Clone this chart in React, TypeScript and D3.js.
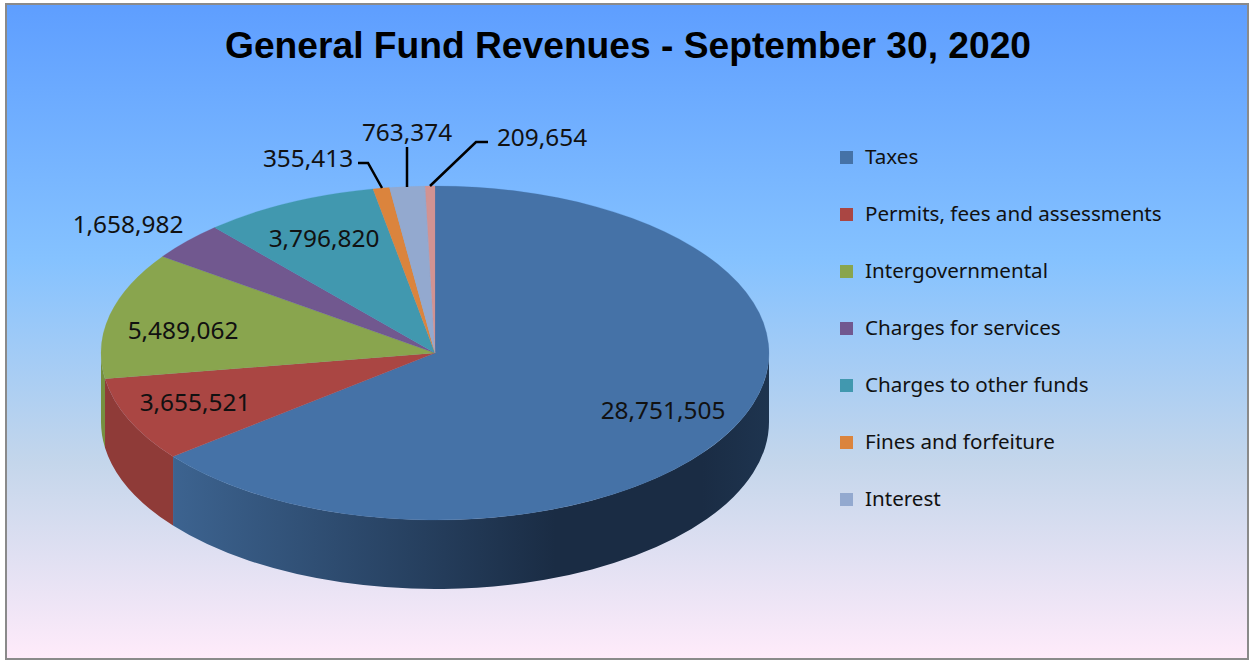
import React from "react";
import * as d3 from "d3";

const categories = ["Taxes", "Permits, fees and assessments", "Intergovernmental", "Charges for services", "Charges to other funds", "Fines and forfeiture", "Interest", "Other"];
const values = [28751505, 3655521, 5489062, 1658982, 3796820, 355413, 763374, 209654];
const legendCategories = categories.slice(0, 7);
const colors = ["#4572A7", "#AA4643", "#89A54E", "#71588F", "#4198AF", "#DB843D", "#93A9CF", "#D19392"];
const wallLight = ["#3D6491", "#8F3B38", "#76903F", "#5F4A78", "#367F93", "#B86E32", "#7C8EAE", "#B07B7A"];
const wallDark = ["#1A2C44", "#8F3B38", "#76903F", "#5F4A78", "#367F93", "#B86E32", "#7C8EAE", "#B07B7A"];
const labelPos: [number, number][] = [[663, 410], [195, 402], [183, 330], [128, 224], [324, 238], [308, 158], [407, 132], [542, 137]];
const leaders: [number, number][][] = [
  [[358, 163], [368, 163], [382, 188]],
  [[407, 147], [407, 187]],
  [[488, 142], [476, 142], [430, 186]],
];

const W = 1249, H = 660;
const cx = 435, cy = 353, rx = 334, ry = 167, depth = 69;
const legendX = 840, legendY = d3.scaleLinear().domain([0, 1]).range([157, 214]);

const pie = d3.pie<number>().sort(null).startAngle(0).endAngle(2 * Math.PI);
const arcs = pie(values);
const arcGen = d3.arc<d3.PieArcDatum<number>>().innerRadius(0).outerRadius(rx);
const px = (a: number) => cx + rx * Math.sin(a);
const py = (a: number) => cy - ry * Math.cos(a);

function wallPath(a0: number, a1: number) {
  const s = Math.max(a0, Math.PI / 2), e = Math.min(a1, 1.5 * Math.PI);
  if (e <= s) return null;
  const large = e - s > Math.PI ? 1 : 0;
  return `M${px(s)},${py(s)}A${rx},${ry} 0 ${large} 1 ${px(e)},${py(e)}L${px(e)},${py(e) + depth}A${rx},${ry} 0 ${large} 0 ${px(s)},${py(s) + depth}Z`;
}
const line = d3.line();

export default function App() {
  const body = "'Noto Sans', 'DejaVu Sans', sans-serif";
  return (
    <svg width={W} height={H} style={{ position: "absolute", left: 0, top: 0, display: "block", background: "#fff" }}>
      <defs>
        <linearGradient id="bg" x1="0" y1="0" x2="0" y2="1">
          <stop offset="0" stopColor="#5E9EFF" />
          <stop offset="0.39" stopColor="#85C2FF" />
          <stop offset="0.7" stopColor="#C4D6EB" />
          <stop offset="1" stopColor="#FFEBFA" />
        </linearGradient>
        {arcs.map((d, i) => (
          <linearGradient key={i} id={`wall${i}`} gradientUnits="userSpaceOnUse" x1={cx - rx} y1="0" x2={cx + rx} y2="0">
            <stop offset="0.1" stopColor={wallLight[i]} />
            <stop offset="0.68" stopColor={wallDark[i]} />
            <stop offset="0.9" stopColor={wallDark[i]} />
            <stop offset="1" stopColor={i === 0 ? "#1E344F" : wallDark[i]} />
          </linearGradient>
        ))}
      </defs>
      <rect x={6} y={4} width={W - 7} height={H - 5} fill="url(#bg)" stroke="#8a8a8a" strokeWidth={2} />
      <text x={628} y={58} textAnchor="middle" fontFamily="'Liberation Sans', Arial, sans-serif" fontWeight="bold" fontSize={37.2} fill="#000">
        General Fund Revenues - September 30, 2020
      </text>
      <g>
        {arcs.map((d, i) => {
          const p = wallPath(d.startAngle, d.endAngle);
          return p ? <path key={i} d={p} fill={`url(#wall${i})`} /> : null;
        })}
      </g>
      <g transform={`translate(${cx},${cy}) scale(1,${ry / rx})`}>
        {arcs.map((d, i) => (
          <path key={i} d={arcGen(d) || ""} fill={colors[i]} stroke={colors[i]} strokeWidth={0.3} />
        ))}
      </g>
      <g fill="none" stroke="#000" strokeWidth={2.5}>
        {leaders.map((l, i) => <path key={i} d={line(l) || ""} />)}
      </g>
      <g fontFamily={body} fontSize={24.4} fill="#111" textAnchor="middle">
        {values.map((v, i) => (
          <text key={i} x={labelPos[i][0]} y={labelPos[i][1]} dy="0.35em">{d3.format(",")(v)}</text>
        ))}
      </g>
      <g fontFamily={body} fontSize={20.6} fill="#111">
        {legendCategories.map((c, i) => (
          <g key={c} transform={`translate(${legendX},${legendY(i)})`}>
            <rect x={0} y={-6} width={13} height={13} fill={colors[i]} />
            <text x={25} dy="0.35em">{c}</text>
          </g>
        ))}
      </g>
    </svg>
  );
}
